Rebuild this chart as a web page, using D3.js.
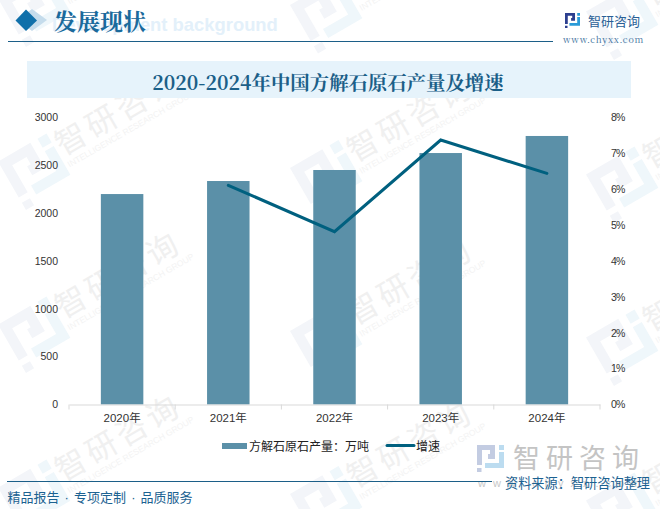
<!DOCTYPE html>
<html>
<head>
<meta charset="utf-8">
<script src="https://cdn.jsdelivr.net/npm/d3@7"></script>
<style>
  html, body { margin: 0; padding: 0; background: #fff; }
  svg { display: block; }
  text { font-family: "Liberation Sans", "Noto Sans CJK SC", sans-serif; }
  .serif { font-family: "Noto Serif CJK SC", "Liberation Serif", "Noto Sans CJK SC", serif; }
</style>
</head>
<body>
<svg id="chart" width="660" height="509"></svg>
<script>
var years = ["2020年", "2021年", "2022年", "2023年", "2024年"];
var output = [2196, 2332, 2447, 2624, 2802];
var growth = [null, 6.1, 4.81, 7.36, 6.43];
var leftTicks = [0, 500, 1000, 1500, 2000, 2500, 3000];
var rightTicks = [0, 1, 2, 3, 4, 5, 6, 7, 8];

var margin = {top: 117, right: 60, bottom: 104.5, left: 69},
    width = 660 - margin.left - margin.right,
    height = 509 - margin.top - margin.bottom;

var svg = d3.select("#chart");

// logo is drawn on a 54 box, scaled where it is used
var logoLeft = "M0,0H36V28H22V18H26V10H10V40H0ZM0,46H9V54H0Z";
var logoRight = "M44,0H54V10H44ZM44,14H54V46H16V36H44Z";

function drawLogo(sel, size, c1, c2) {
  var s = size / 54;
  sel.append("path").attr("d", logoLeft).attr("transform", "scale(" + s + ")").attr("fill", c1);
  sel.append("path").attr("d", logoRight).attr("transform", "scale(" + s + ")").attr("fill", c2);
}

// watermarks sit under everything
var marks = [];
[0, 292, 588].forEach(function(cx, c) {
  [2, 165, 328, 491].forEach(function(cy) {
    marks.push([cx, cy + c * 6.5]);
  });
});
var wm = svg.append("g").selectAll("g")
    .data(marks)
  .enter().append("g")
    .attr("transform", function(d) { return "translate(" + d[0] + "," + d[1] + ") rotate(-30)"; });
wm.each(function() {
  drawLogo(d3.select(this).append("g").attr("transform", "translate(0,-4)"), 56, "#f3f5f9", "#eff7fb");
});
wm.append("text")
    .attr("x", 59).attr("y", 24)
    .attr("font-size", 31)
    .attr("letter-spacing", 4)
    .attr("fill", "#f0f0f0")
    .text("智研咨询");
wm.append("text")
    .attr("x", 59).attr("y", 37)
    .attr("font-size", 8.5)
    .attr("fill", "#f3f3f3")
    .text("INTELLIGENCE RESEARCH GROUP");

// header
svg.append("text")
    .attr("x", 52).attr("y", 31)
    .attr("font-size", 18.4)
    .attr("font-weight", "bold")
    .attr("fill", "#e3f0fa")
    .text("Development background");
svg.append("path")
    .attr("d", "M32,9L47,20L32,31L17,20Z")
    .attr("fill", "#c5dcec");
svg.append("path")
    .attr("d", "M26,9.5L37,20.5L26,31L15.5,20.5Z")
    .attr("fill", "#1070aa");
svg.append("text")
    .attr("class", "serif")
    .attr("x", 54).attr("y", 30)
    .attr("font-size", 23)
    .attr("font-weight", "bold")
    .attr("fill", "#1a6a9c")
    .text("发展现状");
svg.append("line")
    .attr("x1", 8).attr("x2", 553)
    .attr("y1", 41.5).attr("y2", 41.5)
    .attr("stroke", "#1c5f88")
    .attr("stroke-width", 1);

// logo top right
drawLogo(svg.append("g").attr("transform", "translate(565,13)"), 15, "#2d3f8f", "#2a9bd8");
svg.append("text")
    .attr("x", 588).attr("y", 26)
    .attr("font-size", 13)
    .attr("fill", "#2a5f96")
    .text("智研咨询");
svg.append("text")
    .attr("class", "serif")
    .attr("x", 563).attr("y", 43)
    .attr("font-size", 9)
    .attr("letter-spacing", 0.7)
    .attr("fill", "#3b6f9c")
    .text("www.chyxx.com");

// title band
svg.append("rect")
    .attr("x", 27).attr("y", 61)
    .attr("width", 604).attr("height", 37)
    .attr("fill", "#e6f3fb");
svg.append("text")
    .attr("class", "serif")
    .attr("x", 328).attr("y", 89.5)
    .attr("text-anchor", "middle")
    .attr("font-size", 19.4)
    .attr("font-weight", "bold")
    .attr("fill", "#1b5f88")
    .text("2020-2024年中国方解石原石产量及增速");

var g = svg.append("g")
    .attr("transform", "translate(" + margin.left + "," + margin.top + ")");

var x = d3.scaleBand()
    .domain(years)
    .range([0, width]);

var y = d3.scaleLinear()
    .domain([0, 3000])
    .range([height, 0]);

var y2 = d3.scaleLinear()
    .domain([0, 8])
    .range([height, 0]);

var barWidth = x.bandwidth() * 0.4;

g.selectAll(".bar")
    .data(output)
  .enter().append("rect")
    .attr("class", "bar")
    .attr("x", function(d, i) { return x(years[i]) + (x.bandwidth() - barWidth) / 2; })
    .attr("y", function(d) { return y(d); })
    .attr("width", barWidth)
    .attr("height", function(d) { return height - y(d); })
    .attr("fill", "#5b90a8");

// x axis
var xAxis = g.append("g")
    .attr("transform", "translate(0," + height + ")")
    .call(d3.axisBottom(x).tickSize(0).tickPadding(9));
xAxis.select(".domain").attr("stroke", "#d9d9d9");
xAxis.selectAll("text").attr("font-size", 11.5).attr("fill", "#333");
xAxis.append("g").selectAll("line")
    .data(d3.range(years.length + 1))
  .enter().append("line")
    .attr("x1", function(d) { return d * x.step(); })
    .attr("x2", function(d) { return d * x.step(); })
    .attr("y1", 0).attr("y2", 5)
    .attr("stroke", "#d9d9d9");

var yAxis = g.append("g")
    .call(d3.axisLeft(y).tickValues(leftTicks).tickSize(0).tickPadding(11)
      .tickFormat(function(d) { return String(d); }));
yAxis.select(".domain").remove();
yAxis.selectAll("text").attr("font-size", 10.5).attr("fill", "#333");

var yAxisRight = g.append("g")
    .attr("transform", "translate(" + width + ",0)")
    .call(d3.axisRight(y2).tickValues(rightTicks).tickSize(0).tickPadding(11)
      .tickFormat(function(d) { return d + "%"; }));
yAxisRight.select(".domain").remove();
yAxisRight.selectAll("text")
    .attr("font-size", 10.5)
    .attr("letter-spacing", -0.9)
    .attr("fill", "#333");

var line = d3.line()
    .defined(function(d) { return d !== null; })
    .x(function(d, i) { return x(years[i]) + x.bandwidth() / 2; })
    .y(function(d) { return y2(d); });

g.append("path")
    .datum(growth)
    .attr("d", line)
    .attr("fill", "none")
    .attr("stroke", "#00607f")
    .attr("stroke-width", 3)
    .attr("stroke-linecap", "round");

// legend
svg.append("rect")
    .attr("x", 222).attr("y", 443)
    .attr("width", 25).attr("height", 6)
    .attr("fill", "#5b90a8");
svg.append("text")
    .attr("x", 249).attr("y", 451)
    .attr("font-size", 12)
    .attr("fill", "#222")
    .text("方解石原石产量：万吨");
svg.append("line")
    .attr("x1", 387).attr("x2", 414)
    .attr("y1", 445.5).attr("y2", 445.5)
    .attr("stroke", "#00607f")
    .attr("stroke-width", 3)
    .attr("stroke-linecap", "round");
svg.append("text")
    .attr("x", 416).attr("y", 451)
    .attr("font-size", 12)
    .attr("fill", "#222")
    .text("增速");

// big logo bottom right
drawLogo(svg.append("g").attr("transform", "translate(477,445)"), 27, "#c3cce2", "#bcdcf0");
svg.append("text")
    .attr("x", 513).attr("y", 468)
    .attr("font-size", 27)
    .attr("letter-spacing", 6)
    .attr("fill", "#c4c4c4")
    .text("智研咨询");
svg.append("text")
    .attr("x", 478).attr("y", 487)
    .attr("font-size", 11)
    .attr("letter-spacing", 7)
    .attr("fill", "#c8c8c8")
    .text("www.chyxx.com");

// footer
svg.append("line")
    .attr("x1", 7).attr("x2", 492)
    .attr("y1", 481.5).attr("y2", 481.5)
    .attr("stroke", "#1c5f88")
    .attr("stroke-width", 1);
svg.append("text")
    .attr("x", 7.5).attr("y", 501.5)
    .attr("font-size", 13)
    .attr("word-spacing", 1.5)
    .attr("fill", "#1c6291")
    .text("精品报告 · 专项定制 · 品质服务");
svg.append("text")
    .attr("x", 505).attr("y", 487.5)
    .attr("font-size", 13.2)
    .attr("fill", "#1c6291")
    .text("资料来源：智研咨询整理");
</script>
</body>
</html>
